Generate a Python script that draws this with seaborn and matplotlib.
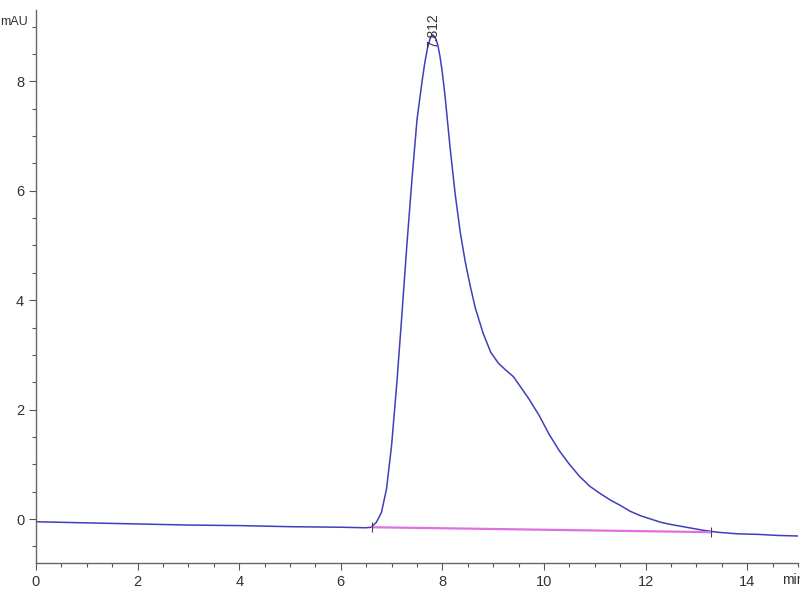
import numpy as np
import pandas as pd
import matplotlib.pyplot as plt
import seaborn as sns
from matplotlib.ticker import MultipleLocator

# chromatogram trace (time in min, signal in mAU)
time = [0, 1, 2, 3, 4, 5, 6, 6.5, 6.6, 6.7, 6.8, 6.9, 7.0, 7.1, 7.2, 7.3, 7.4, 7.5,
        7.6, 7.65, 7.7, 7.76, 7.812, 7.87, 7.91, 7.95, 8.0, 8.05, 8.15, 8.25, 8.35,
        8.45, 8.55, 8.65, 8.8, 8.95, 9.1, 9.25, 9.4, 9.55, 9.7, 9.9, 10.1, 10.3, 10.5,
        10.7, 10.9, 11.1, 11.3, 11.5, 11.7, 11.9, 12.1, 12.3, 12.5, 12.8, 13.1, 13.4,
        13.8, 14.2, 14.6, 15.0]
signal = [-0.05, -0.07, -0.09, -0.11, -0.12, -0.14, -0.15, -0.16, -0.15, -0.06, 0.12,
          0.55, 1.35, 2.45, 3.7, 5.0, 6.2, 7.3, 8.0, 8.32, 8.58, 8.79, 8.85, 8.78, 8.66,
          8.47, 8.15, 7.75, 6.8, 5.95, 5.25, 4.7, 4.25, 3.85, 3.4, 3.05, 2.85, 2.72,
          2.6, 2.4, 2.2, 1.9, 1.55, 1.25, 1.0, 0.78, 0.6, 0.47, 0.35, 0.25, 0.14, 0.06,
          0.0, -0.06, -0.1, -0.15, -0.2, -0.24, -0.27, -0.28, -0.3, -0.31]

# integration baseline
base_t = [6.62, 13.28]
base_y = [-0.15, -0.24]

peak_t = 7.812
label_y = 8.6
peak_label = "7.812"

sns.set_style("white")
plt.rcParams['font.family'] = ['Liberation Sans', 'DejaVu Sans']

fig = plt.figure(figsize=(8, 6), dpi=100)
ax = fig.add_axes([0.045, 0.062, 0.9525, 0.921])

df = pd.DataFrame({'t': time, 'mAU': signal})
sns.lineplot(data=df, x='t', y='mAU', ax=ax, color='#3f3fbc', linewidth=1.1, sort=False)
sns.lineplot(x=base_t, y=base_y, ax=ax, color='#e070e0', linewidth=1.6)
ax.plot(base_t, base_y, linestyle='none', marker='|', markersize=7, color='#444444',
        markeredgewidth=0.8)

ax.text(peak_t, label_y, peak_label, rotation=90, ha='center', va='bottom',
        fontsize=10, color='#333333')

ax.set_xlim(0, 15)
ax.set_ylim(-0.8, 9.3)
ax.xaxis.set_major_locator(MultipleLocator(2))
ax.xaxis.set_minor_locator(MultipleLocator(0.5))
ax.yaxis.set_major_locator(MultipleLocator(2))
ax.yaxis.set_minor_locator(MultipleLocator(0.5))
ax.tick_params(which='major', direction='out', length=5, width=0.8, colors='#555555',
               labelcolor='#333333', labelsize=10.5, left=True, bottom=True)
ax.tick_params(which='minor', direction='out', length=3, width=0.8, colors='#555555',
               left=True, bottom=True)
for s in ['top', 'right']:
    ax.spines[s].set_visible(False)
for s in ['left', 'bottom']:
    ax.spines[s].set_color('#666666')
    ax.spines[s].set_linewidth(1.0)
ax.set_xlabel('')
ax.set_ylabel('')

fig.text(0.018, 0.963, 'mAU', fontsize=9, color='#333333', ha='center', va='center')
fig.text(0.977, 0.033, 'min', fontsize=10, color='#333333', ha='left', va='center')

fig.savefig('out.png', dpi=100)
